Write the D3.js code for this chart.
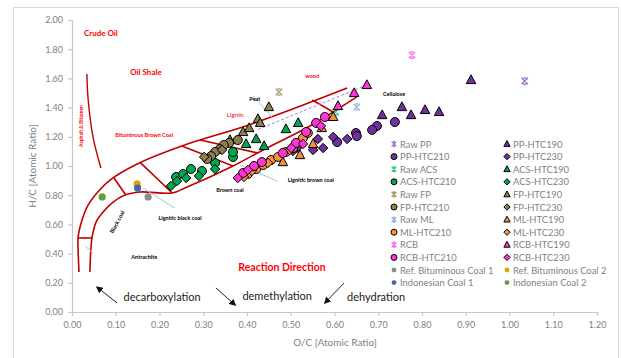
<!DOCTYPE html>
<html><head><meta charset="utf-8">
<script src="https://cdn.jsdelivr.net/npm/d3@7"></script>
<style>body{margin:0;background:#fff}svg{display:block}</style>
</head><body>
<svg id="chart" width="621" height="358"></svg>
<script>
// ---- axis ticks ----
const xTickValues = [0, 0.1, 0.2, 0.3, 0.4, 0.5, 0.6, 0.7, 0.8, 0.9, 1.0, 1.1, 1.2];
const yTickValues = [0, 0.2, 0.4, 0.6, 0.8, 1.0, 1.2, 1.4, 1.6, 1.8, 2.0];

// ---- measured atomic ratios [O/C, H/C] ----
const rawPP = [[1.035, 1.582]];
const ppHtc190 = [[0.709, 1.349], [0.754, 1.404], [0.775, 1.349], [0.807, 1.384], [0.839, 1.370], [0.912, 1.589]];
const ppHtc210 = [[0.738, 1.301], [0.697, 1.274], [0.686, 1.247], [0.649, 1.226], [0.651, 1.205], [0.606, 1.164]];
const ppHtc230 = [[0.514, 1.123], [0.505, 1.103], [0.551, 1.110], [0.562, 1.185], [0.574, 1.123], [0.597, 1.199], [0.629, 1.185]];

const rawACS = [[0.603, 1.370]];
const acsHtc190 = [[0.398, 1.151], [0.421, 1.185], [0.439, 1.137], [0.489, 1.253], [0.517, 1.295]];
const acsHtc210 = [[0.238, 0.925], [0.254, 0.945], [0.272, 0.979], [0.297, 0.966], [0.327, 1.021], [0.368, 1.062], [0.368, 1.096]];
const acsHtc230 = [[0.226, 0.863], [0.240, 0.897], [0.261, 0.918], [0.290, 0.932], [0.327, 0.979]];

const rawFP = [[0.473, 1.507]];
const fpHtc190 = [[0.450, 1.404], [0.425, 1.322], [0.430, 1.295], [0.391, 1.233], [0.405, 1.260], [0.361, 1.178]];
const fpHtc210 = [[0.379, 1.178], [0.359, 1.158], [0.347, 1.144], [0.338, 1.116], [0.327, 1.096], [0.318, 1.068], [0.309, 1.048]];
const fpHtc230 = [[0.302, 1.062], [0.343, 1.110]];

const rawML = [[0.651, 1.404]];
const mlHtc190 = [[0.597, 1.336], [0.571, 1.260], [0.551, 1.151], [0.521, 1.075], [0.482, 1.027]];
const mlHtc210 = [[0.402, 0.945], [0.421, 0.979], [0.437, 1.007], [0.455, 1.041], [0.471, 1.062], [0.489, 1.096], [0.505, 1.123], [0.528, 1.192], [0.539, 1.226]];
const mlHtc230 = [[0.393, 0.925], [0.411, 0.966], [0.448, 1.021], [0.498, 1.110]];

const rawRCB = [[0.777, 1.760]];
const rcbHtc190 = [[0.608, 1.411], [0.645, 1.500], [0.674, 1.555]];
const rcbHtc210 = [[0.391, 0.952], [0.416, 1.000], [0.434, 1.027], [0.482, 1.089], [0.512, 1.158], [0.535, 1.233], [0.558, 1.295], [0.578, 1.336]];
const rcbHtc230 = [[0.379, 0.918], [0.402, 0.973], [0.501, 1.123], [0.528, 1.151], [0.569, 1.274]];

const refBitCoal1 = [[0.174, 0.788]];
const refBitCoal2 = [[0.149, 0.877]];
const indoCoal1 = [[0.150, 0.849]];
const indoCoal2 = [[0.069, 0.788]];

// ---- series table (legend order) ----
const series = [
  { name: "Raw PP", shape: "x", color: "#9b6bd3", pts: rawPP },
  { name: "PP-HTC190", shape: "tri", color: "#7030a0", pts: ppHtc190 },
  { name: "PP-HTC210", shape: "circ", color: "#7030a0", pts: ppHtc210 },
  { name: "PP-HTC230", shape: "dia", color: "#7030a0", pts: ppHtc230 },
  { name: "Raw ACS", shape: "x", color: "#2ecc71", pts: rawACS },
  { name: "ACS-HTC190", shape: "tri", color: "#00a650", pts: acsHtc190 },
  { name: "ACS-HTC210", shape: "circ", color: "#00a650", pts: acsHtc210 },
  { name: "ACS-HTC230", shape: "dia", color: "#00a650", pts: acsHtc230 },
  { name: "Raw FP", shape: "x", color: "#a89a62", pts: rawFP },
  { name: "FP-HTC190", shape: "tri", color: "#8c7e4e", pts: fpHtc190 },
  { name: "FP-HTC210", shape: "circ", color: "#8c7e4e", pts: fpHtc210 },
  { name: "FP-HTC230", shape: "dia", color: "#8c7e4e", pts: fpHtc230 },
  { name: "Raw ML", shape: "x", color: "#8db4e2", pts: rawML },
  { name: "ML-HTC190", shape: "tri", color: "#f4913f", pts: mlHtc190 },
  { name: "ML-HTC210", shape: "circ", color: "#f4913f", pts: mlHtc210 },
  { name: "ML-HTC230", shape: "dia", color: "#f4913f", pts: mlHtc230 },
  { name: "RCB", shape: "x", color: "#ff5cf0", pts: rawRCB },
  { name: "RCB-HTC190", shape: "tri", color: "#ff33d6", pts: rcbHtc190 },
  { name: "RCB-HTC210", shape: "circ", color: "#ff33d6", pts: rcbHtc210 },
  { name: "RCB-HTC230", shape: "dia", color: "#ff33d6", pts: rcbHtc230 },
  { name: "Ref. Bituminous Coal 1", shape: "dot", color: "#8c8c8c", pts: refBitCoal1 },
  { name: "Ref. Bituminous Coal 2", shape: "dot", color: "#dba400", pts: refBitCoal2 },
  { name: "Indonesian Coal 1", shape: "dot", color: "#3d66b3", pts: indoCoal1 },
  { name: "Indonesian Coal 2", shape: "dot", color: "#5f9e3c", pts: indoCoal2 }
];

// ---- coal band outline of the van Krevelen diagram, in [O/C, H/C] ----
const bandUpper = [[0.016, 0.274], [0.014, 0.425], [0.014, 0.514], [0.023, 0.630], [0.037, 0.733], [0.059, 0.822], [0.087, 0.904], [0.149, 1.014], [0.251, 1.137], [0.411, 1.288], [0.629, 1.534]];
const bandLower = [[0.041, 0.274], [0.043, 0.425], [0.046, 0.514], [0.055, 0.616], [0.071, 0.685], [0.094, 0.753], [0.121, 0.801], [0.155, 0.822], [0.229, 0.815], [0.258, 0.849], [0.368, 1.000], [0.437, 1.110], [0.544, 1.274], [0.651, 1.473]];
const bandDividers = [
  [[0.014, 0.507], [0.046, 0.507]],
  [[0.096, 0.918], [0.123, 0.801]],
  [[0.155, 1.027], [0.229, 0.815]],
  [[0.251, 1.137], [0.368, 1.000]],
  [[0.293, 1.178], [0.425, 1.089]],
  [[0.549, 1.452], [0.597, 1.370]]
];
const bitumenCurve = [[0.034, 1.630], [0.037, 1.452], [0.048, 1.199], [0.066, 0.986]];
const trendDashed = [[0.425, 1.250], [0.674, 1.555]];
const leaders = [
  [[0.414, 1.479], [0.457, 1.336]],
  [[0.384, 1.007], [0.469, 0.897]],
  [[0.162, 0.849], [0.235, 0.712]],
  [[0.030, 0.452], [0.048, 0.404]]
];

// region / process labels: text, [O/C, H/C], style
const regionLabels = [
  { t: "Crude Oil", p: [0.066, 1.911], c: "#ff0000", s: 8, w: 700 },
  { t: "Oil Shale", p: [0.169, 1.644], c: "#ff0000", s: 8, w: 700 },
  { t: "Bituminous Brown Coal", p: [0.165, 1.212], c: "#ff0000", s: 5.5, w: 700 },
  { t: "Lignin", p: [0.373, 1.356], c: "#ff0000", s: 6.5, w: 400 },
  { t: "wood", p: [0.549, 1.616], c: "#ff0000", s: 5.5, w: 700 },
  { t: "Peat", p: [0.418, 1.459], c: "#000", s: 5.5, w: 700 },
  { t: "Cellulose", p: [0.736, 1.493], c: "#000", s: 5.5, w: 700 },
  { t: "Brown coal", p: [0.361, 0.836], c: "#000", s: 5.5, w: 700 },
  { t: "Lignitic brown coal", p: [0.546, 0.904], c: "#000", s: 5.5, w: 700 },
  { t: "Lignitic black coal", p: [0.247, 0.644], c: "#000", s: 5.5, w: 700 },
  { t: "Antrachite", p: [0.165, 0.377], c: "#000", s: 5.5, w: 700 },
  { t: "Reaction Direction", p: [0.480, 0.308], c: "#ff0000", s: 10.5, w: 700 },
  { t: "decarboxylation", p: [0.206, 0.103], c: "#222", s: 11, w: 400 },
  { t: "demethylation", p: [0.469, 0.110], c: "#222", s: 11, w: 400 },
  { t: "dehydration", p: [0.695, 0.103], c: "#222", s: 11, w: 400 }
];
const arrows = [
  [[0.103, 0.062], [0.057, 0.171]],
  [[0.329, 0.164], [0.373, 0.048]],
  [[0.622, 0.199], [0.578, 0.062]]
];

const FONT = "Lato, 'Open Sans', 'Liberation Sans', sans-serif";
const svg = d3.select("#chart").style("font-family", FONT);
const x = d3.scaleLinear().domain([0, 1.2]).range([72, 597]);
const y = d3.scaleLinear().domain([0, 2]).range([312, 20]);

// outer frame
svg.append("rect").attr("x", 13.5).attr("y", 7.5).attr("width", 605).attr("height", 360)
  .attr("fill", "#fff").attr("stroke", "#d9d9d9");

// axes
const fmt = d3.format(".2f");
const gx = svg.append("g").attr("transform", `translate(0,${y(0)})`)
  .call(d3.axisBottom(x).tickValues(xTickValues).tickFormat(fmt).tickSize(4).tickPadding(6));
const gy = svg.append("g").attr("transform", `translate(${x(0)},0)`)
  .call(d3.axisLeft(y).tickValues(yTickValues).tickFormat(fmt).tickSize(4).tickPadding(5));
[gx, gy].forEach(g => {
  g.selectAll("path.domain, line").attr("stroke", "#c8c8c8").attr("stroke-width", 1.2);
  g.selectAll("text").attr("fill", "#7f7f7f").style("font-size", "9px").style("font-family", FONT);
});
svg.append("text").attr("x", 335).attr("y", 346).attr("text-anchor", "middle")
  .attr("fill", "#7f7f7f").style("font-size", "10px").text("O/C [Atomic Ratio]");
svg.append("text").attr("transform", `translate(36,${(y(0) + y(2)) / 2}) rotate(-90)`)
  .attr("text-anchor", "middle").attr("fill", "#7f7f7f").style("font-size", "10px").text("H/C [Atomic Ratio]");

// coal band
const line = d3.line().x(d => x(d[0])).y(d => y(d[1]));
const smooth = d3.line().x(d => x(d[0])).y(d => y(d[1])).curve(d3.curveCatmullRom.alpha(0.5));
const red = "#c00000";
svg.append("path").attr("d", smooth(bandUpper)).attr("fill", "none").attr("stroke", red).attr("stroke-width", 1.6);
svg.append("path").attr("d", smooth(bandLower)).attr("fill", "none").attr("stroke", red).attr("stroke-width", 1.6);
bandDividers.forEach(d => svg.append("path").attr("d", line(d)).attr("fill", "none").attr("stroke", red).attr("stroke-width", 1.6));
svg.append("path").attr("d", smooth(bitumenCurve)).attr("fill", "none").attr("stroke", red).attr("stroke-width", 1.4);
svg.append("path").attr("d", line(trendDashed)).attr("fill", "none").attr("stroke", "#a77fd6")
  .attr("stroke-width", 1).attr("stroke-dasharray", "3,2");
leaders.forEach(d => svg.append("path").attr("d", line(d)).attr("fill", "none").attr("stroke", "#9dc3e6").attr("stroke-width", 1));

// labels
regionLabels.forEach(l => svg.append("text").attr("x", x(l.p[0])).attr("y", y(l.p[1]))
  .attr("text-anchor", "middle").attr("dominant-baseline", "central")
  .attr("fill", l.c).style("font-size", l.s + "px").style("font-weight", l.w).text(l.t));
svg.append("text").attr("transform", `translate(${x(0.021)},${y(1.274)}) rotate(-90)`)
  .attr("text-anchor", "middle").attr("dominant-baseline", "central")
  .attr("fill", "#ff0000").style("font-size", "5px").style("font-weight", 700).text("Asphalt & Bitumen");
svg.append("text").attr("transform", `translate(${x(0.103)},${y(0.616)}) rotate(-62)`)
  .attr("text-anchor", "middle").attr("dominant-baseline", "central")
  .attr("fill", "#000").style("font-size", "5.5px").style("font-weight", 700).text("Black coal");

// arrows
svg.append("defs").append("marker").attr("id", "ah").attr("viewBox", "0 0 10 10")
  .attr("refX", 8).attr("refY", 5).attr("markerWidth", 7).attr("markerHeight", 7).attr("orient", "auto")
  .append("path").attr("d", "M0,0 L10,5 L0,10 z").attr("fill", "#111");
arrows.forEach(a => svg.append("path").attr("d", line(a)).attr("stroke", "#222").attr("stroke-width", 1)
  .attr("marker-end", "url(#ah)"));

// marker drawing
function drawMarker(g, shape, color, size) {
  const s = size;
  if (shape === "x") {
    g.append("path").attr("d", `M${-s},${-s}L${s},${s}M${s},${-s}L${-s},${s}M${-s * 0.45},${-s}H${s * 0.45}M${-s * 0.45},${s}H${s * 0.45}`)
      .attr("stroke", color).attr("stroke-width", 1.3).attr("fill", "none");
  } else if (shape === "tri") {
    g.append("path").attr("d", `M0,${-s * 1.15}L${s * 1.05},${s * 0.8}L${-s * 1.05},${s * 0.8}Z`)
      .attr("fill", color).attr("stroke", "#000").attr("stroke-width", 1);
  } else if (shape === "circ") {
    g.append("circle").attr("r", s).attr("fill", color).attr("stroke", "#000").attr("stroke-width", 1);
  } else if (shape === "dia") {
    const d = s * 1.05;
    g.append("path").attr("d", `M0,${-d}L${d},0L0,${d}L${-d},0Z`)
      .attr("fill", color).attr("stroke", "#000").attr("stroke-width", 1);
  } else {
    g.append("circle").attr("r", s * 0.8).attr("fill", color);
  }
}

const plotG = svg.append("g");
series.forEach(sr => {
  sr.pts.forEach(p => {
    const g = plotG.append("g").attr("transform", `translate(${x(p[0])},${y(p[1])})`);
    drawMarker(g, sr.shape, sr.color, sr.shape === "x" ? 3.2 : 4.5);
  });
});

// legend, two columns
const leg = svg.append("g");
series.forEach((sr, i) => {
  const col = i % 2, row = Math.floor(i / 2);
  const lx = col === 0 ? 394 : 507, ly = 144 + row * 12.6;
  const g = leg.append("g").attr("transform", `translate(${lx},${ly})`);
  drawMarker(g, sr.shape, sr.color, sr.shape === "x" ? 2.4 : 3);
  g.append("text").attr("x", 6).attr("y", 0).attr("dominant-baseline", "central")
    .attr("fill", "#7f7f7f").style("font-size", "9.4px").text(sr.name);
});
</script>
</body></html>
